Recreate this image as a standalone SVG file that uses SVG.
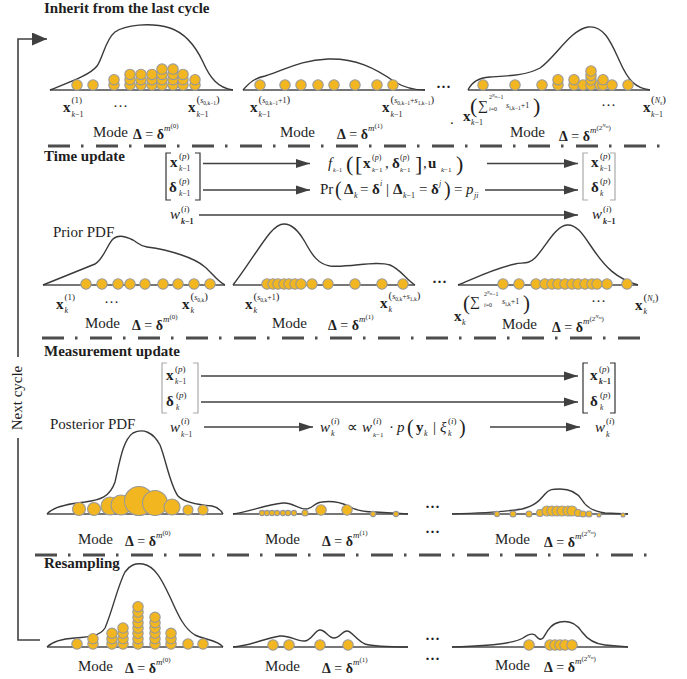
<svg xmlns="http://www.w3.org/2000/svg" width="687" height="679" viewBox="0 0 687 679">
<defs>
<style>
text{font-family:"Liberation Serif","Times New Roman",serif;fill:#1e1e1e}
.h{font-weight:bold;font-size:15px}
.lb{font-size:15px}
.eq{font-size:14px}
.b{font-weight:bold}
.i{font-style:italic}
.c{fill:none;stroke:#3a3a3a;stroke-width:1.4}
.bl{stroke:#4a4a4a;stroke-width:1.6}
.p{fill:#F2B620;stroke:#999;stroke-width:1.1}
.sep{fill:none;stroke:#4d4d4d;stroke-width:3;stroke-dasharray:22 11 2.5 12.5}
.ar{fill:none;stroke:#404040;stroke-width:1.5;marker-end:url(#ah)}
.loop{fill:none;stroke:#404040;stroke-width:1.6}
.br{fill:none;stroke:#333;stroke-width:1.2}
.brl{fill:none;stroke:#aaa;stroke-width:1.2}
</style>
<marker id="ah" markerUnits="userSpaceOnUse" markerWidth="15" markerHeight="10" refX="14" refY="5" orient="auto">
<path d="M0,0.5 L14,5 L0,9.5 Z" fill="#404040"/>
</marker>
<marker id="ah2" markerUnits="userSpaceOnUse" markerWidth="16" markerHeight="13" refX="15" refY="6.5" orient="auto">
<path d="M0,0 L15,6.5 L0,13 Z" fill="#404040"/>
</marker>
</defs>
<rect width="687" height="679" fill="#fff"/>

<!-- separators and section titles -->
<g id="sections">
<text class="h" x="44" y="13">Inherit from the last cycle</text>
<line class="sep" x1="48" y1="146" x2="660" y2="146"/>
<text class="h" x="44" y="161">Time update</text>
<text class="lb" x="53" y="237">Prior PDF</text>
<line class="sep" x1="42" y1="338" x2="640" y2="338"/>
<text class="h" x="44" y="356">Measurement update</text>
<text class="lb" x="50" y="429">Posterior PDF</text>
<line class="sep" x1="35" y1="555" x2="648" y2="555"/>
<text class="h" x="44" y="568">Resampling</text>
</g>

<!-- next cycle loop -->
<g id="next-cycle">
<path class="loop" d="M40,640 H18 V438"/>
<path class="loop" d="M18,357 V39 H47" marker-end="url(#ah2)"/>
<text class="lb" transform="translate(22,398) rotate(-90)" text-anchor="middle">Next cycle</text>
</g>

<!-- ROW 1: inherit -->
<g id="inherit-mode0">
<line class="bl" x1="50" y1="90" x2="233" y2="90"/>
<path class="c" d="M50,90 C70,82 90,75 97,66 C103,58 105,40 115,32 C125,25 150,22 170,28 C185,33 195,45 203,62 C210,78 218,88 233,90"/>
<circle class="p" cx="77" cy="85" r="5.2"/>
<circle class="p" cx="93" cy="85" r="5.2"/>
<circle class="p" cx="114" cy="85" r="5.2"/><circle class="p" cx="114" cy="79.7" r="5.2"/>
<circle class="p" cx="130" cy="85" r="5.2"/><circle class="p" cx="130" cy="79.7" r="5.2"/><circle class="p" cx="130" cy="74.4" r="5.2"/>
<circle class="p" cx="141" cy="85" r="5.2"/><circle class="p" cx="141" cy="79.7" r="5.2"/><circle class="p" cx="141" cy="74.4" r="5.2"/>
<circle class="p" cx="152" cy="85" r="5.2"/><circle class="p" cx="152" cy="79.7" r="5.2"/><circle class="p" cx="152" cy="74.4" r="5.2"/>
<circle class="p" cx="162" cy="85" r="5.2"/><circle class="p" cx="162" cy="79.7" r="5.2"/><circle class="p" cx="162" cy="74.4" r="5.2"/><circle class="p" cx="162" cy="69.1" r="5.2"/>
<circle class="p" cx="173" cy="85" r="5.2"/><circle class="p" cx="173" cy="79.7" r="5.2"/><circle class="p" cx="173" cy="74.4" r="5.2"/><circle class="p" cx="173" cy="69.1" r="5.2"/>
<circle class="p" cx="183" cy="85" r="5.2"/><circle class="p" cx="183" cy="79.7" r="5.2"/><circle class="p" cx="183" cy="74.4" r="5.2"/>
<circle class="p" cx="195" cy="85" r="5.2"/><circle class="p" cx="195" cy="79.7" r="5.2"/>
<text class="lb"><tspan class="b" x="63" y="112">x</tspan><tspan x="71.5" y="103" font-size="9">(1)</tspan><tspan x="71.5" y="117" font-size="8" class="i">k</tspan><tspan font-size="8">−1</tspan></text>
<text class="lb" x="113" y="111">···</text>
<text class="lb"><tspan class="b" x="188" y="112">x</tspan><tspan x="196.5" y="103" font-size="11">(</tspan><tspan class="i" font-size="8">s</tspan><tspan font-size="5.5" dy="1.5">0,k−1</tspan><tspan font-size="11" dy="-1.5">)</tspan><tspan x="196.5" y="117" font-size="8" class="i">k</tspan><tspan font-size="8">−1</tspan></text>
<text class="lb" x="93" y="137">Mode</text>
<text class="eq" x="133" y="139"><tspan class="b">Δ</tspan> = <tspan class="b">δ</tspan><tspan class="i" font-size="9" dy="-8">m</tspan><tspan font-size="7" dy="-3">(0)</tspan></text>
</g>

<g id="inherit-mode1">
<line class="bl" x1="243" y1="90" x2="425" y2="90"/>
<path class="c" d="M243,90 C250,82 255,78 265,76 C285,70 300,60 328,59 C355,58 375,68 395,82 C405,88 415,90 425,90"/>
<circle class="p" cx="260" cy="85" r="5.2"/>
<circle class="p" cx="285" cy="85" r="5.2"/>
<circle class="p" cx="301" cy="85" r="5.2"/>
<circle class="p" cx="318" cy="85" r="5.2"/>
<circle class="p" cx="334" cy="85" r="5.2"/>
<circle class="p" cx="355" cy="85" r="5.2"/>
<circle class="p" cx="377" cy="85" r="5.2"/>
<circle class="p" cx="393" cy="85" r="5.2"/>
<text class="lb"><tspan class="b" x="250" y="112">x</tspan><tspan x="258.5" y="103" font-size="11">(</tspan><tspan class="i" font-size="8">s</tspan><tspan font-size="5.5" dy="1.5">0,k−1</tspan><tspan font-size="8" dy="-1.5">+1</tspan><tspan font-size="11">)</tspan><tspan x="258.5" y="117" font-size="8" class="i">k</tspan><tspan font-size="8">−1</tspan></text>
<text class="lb"><tspan class="b" x="382" y="112">x</tspan><tspan x="390.5" y="103" font-size="11">(</tspan><tspan class="i" font-size="8">s</tspan><tspan font-size="5.5" dy="1.5">0,k−1</tspan><tspan font-size="8" dy="-1.5">+</tspan><tspan class="i" font-size="8">s</tspan><tspan font-size="5.5" dy="1.5">1,k−1</tspan><tspan font-size="11" dy="-1.5">)</tspan><tspan x="390.5" y="117" font-size="8" class="i">k</tspan><tspan font-size="8">−1</tspan></text>
<text class="lb" x="280" y="137">Mode</text>
<text class="eq" x="337" y="139"><tspan class="b">Δ</tspan> = <tspan class="b">δ</tspan><tspan class="i" font-size="9" dy="-8">m</tspan><tspan font-size="7" dy="-3">(1)</tspan></text>
</g>

<g id="inherit-gap">
<text class="lb b" x="436" y="92">···</text>
<text class="lb" x="450" y="124">.</text>
</g>

<g id="inherit-modeN">
<line class="bl" x1="468" y1="90" x2="650" y2="90"/>
<path class="c" d="M468,90 C472,82 478,78 490,77 C505,76 525,76 540,68 C555,58 570,30 588,27 C605,25 612,45 620,62 C628,80 635,88 650,90"/>
<circle class="p" cx="483" cy="85" r="5.2"/>
<circle class="p" cx="515" cy="85" r="5.2"/>
<circle class="p" cx="542" cy="85" r="5.2"/>
<circle class="p" cx="558" cy="85" r="5.2"/><circle class="p" cx="558" cy="79.7" r="5.2"/>
<circle class="p" cx="574" cy="85" r="5.2"/><circle class="p" cx="574" cy="79.7" r="5.2"/>
<circle class="p" cx="583" cy="85" r="5.2"/>
<circle class="p" cx="591" cy="85" r="5.2"/><circle class="p" cx="591" cy="80" r="5.2"/><circle class="p" cx="591" cy="75.5" r="5.2"/><circle class="p" cx="591" cy="71" r="5.2"/>
<circle class="p" cx="600" cy="85" r="5.2"/>
<circle class="p" cx="603" cy="85" r="5.2"/><circle class="p" cx="603" cy="79.7" r="5.2"/>
<circle class="p" cx="612" cy="85" r="5.2"/>
<circle class="p" cx="628" cy="85" r="5.2"/>
<text class="lb"><tspan class="b" x="463" y="121">x</tspan><tspan x="470" y="113" font-size="22">(</tspan><tspan x="478" y="110" font-size="14">∑</tspan><tspan x="489" y="99" font-size="6">2</tspan><tspan class="i" font-size="4" dy="-2">N</tspan><tspan class="i" font-size="3.5" dy="1">m</tspan><tspan font-size="6" dy="1">−1</tspan><tspan x="489" y="111" font-size="6"><tspan class="i">i</tspan>=0</tspan><tspan x="506" y="108" font-size="8" class="i">s</tspan><tspan font-size="5.5" dy="1.5">i,k−1</tspan><tspan font-size="8" dy="-1.5">+1</tspan><tspan x="533" y="113" font-size="22">)</tspan><tspan x="471" y="125" font-size="8" class="i">k</tspan><tspan font-size="8">−1</tspan></text>
<text class="lb" x="601" y="110">···</text>
<text class="lb"><tspan class="b" x="643" y="112">x</tspan><tspan x="651" y="103" font-size="11">(</tspan><tspan class="i" font-size="8">N</tspan><tspan class="i" font-size="5.5" dy="1.5">s</tspan><tspan font-size="11" dy="-1.5">)</tspan><tspan x="651" y="117" font-size="8" class="i">k</tspan><tspan font-size="8">−1</tspan></text>
<text class="lb" x="510" y="137">Mode</text>
<text class="eq" x="559" y="141"><tspan class="b">Δ</tspan> = <tspan class="b">δ</tspan><tspan class="i" font-size="9" dy="-8">m</tspan><tspan font-size="7" dy="-3">(2</tspan><tspan class="i" font-size="5" dy="-3">N</tspan><tspan class="i" font-size="4" dy="1">m</tspan><tspan font-size="7" dy="2">)</tspan></text>
</g>

<!-- TIME UPDATE -->
<g id="time-left">
<path class="br" d="M171,153 H166 V200 H171 M195,153 H200 V200 H195"/>
<text class="lb"><tspan class="b" x="170" y="167">x</tspan><tspan x="179" y="159" font-size="9">(<tspan class="i">p</tspan>)</tspan><tspan x="179" y="171" font-size="7.5" class="i">k</tspan><tspan font-size="7.5">−1</tspan></text>
<text class="lb"><tspan class="b" x="169" y="192">δ</tspan><tspan x="179" y="184" font-size="9">(<tspan class="i">p</tspan>)</tspan><tspan x="179" y="196" font-size="7.5" class="i">k</tspan><tspan font-size="7.5">−1</tspan></text>
<text class="lb"><tspan class="i" x="170" y="219">w</tspan><tspan x="181" y="212" font-size="9">(<tspan class="i">i</tspan>)</tspan><tspan x="181" y="224" font-size="8" class="b i">k</tspan><tspan font-size="8" class="b">−1</tspan></text>
</g>
<g id="time-f">
<text class="lb"><tspan class="i" x="328" y="168">f</tspan><tspan x="333" y="172" font-size="6"><tspan class="i">k</tspan>−1</tspan><tspan x="346" y="171" font-size="22">(</tspan><tspan x="355" y="171" font-size="22">[</tspan><tspan class="b" x="363" y="168">x</tspan><tspan x="372" y="160" font-size="8">(<tspan class="i">p</tspan>)</tspan><tspan x="372" y="172" font-size="7"><tspan class="i">k</tspan>−1</tspan><tspan x="385" y="168">,</tspan><tspan class="b" x="392" y="168">δ</tspan><tspan x="400" y="160" font-size="8">(<tspan class="i">p</tspan>)</tspan><tspan x="400" y="172" font-size="7"><tspan class="i">k</tspan>−1</tspan><tspan x="415" y="171" font-size="22">]</tspan><tspan x="423" y="168">,</tspan><tspan class="b" x="428" y="168">u</tspan><tspan x="441" y="172" font-size="7"><tspan class="i">k</tspan>−1</tspan><tspan x="456" y="171" font-size="22">)</tspan></text>
</g>
<g id="time-pr">
<text class="lb"><tspan x="320" y="194">Pr</tspan><tspan x="335" y="196" font-size="20">(</tspan><tspan class="b" x="344" y="194">Δ</tspan><tspan x="354" y="198" font-size="8" class="i">k</tspan><tspan x="360" y="194">=</tspan><tspan class="b" x="372" y="194">δ</tspan><tspan x="380" y="186" font-size="8" class="i">i</tspan><tspan x="386" y="194">|</tspan><tspan class="b" x="393" y="194">Δ</tspan><tspan x="403" y="198" font-size="8"><tspan class="i">k</tspan>−1</tspan><tspan x="419" y="194">=</tspan><tspan class="b" x="431" y="194">δ</tspan><tspan x="439" y="186" font-size="8" class="i">j</tspan><tspan x="444" y="196" font-size="20">)</tspan><tspan x="454" y="194">=</tspan><tspan x="466" y="194" class="i">p</tspan><tspan x="474" y="198" font-size="8" class="i">ji</tspan></text>
</g>
<g id="time-right">
<path class="brl" d="M588,153 H583 V200 H588 M610,153 H615 V200 H610"/>
<text class="lb"><tspan class="b" x="591" y="167">x</tspan><tspan x="600" y="159" font-size="9">(<tspan class="i">p</tspan>)</tspan><tspan x="600" y="171" font-size="7.5" class="i">k</tspan><tspan font-size="7.5">−1</tspan></text>
<text class="lb"><tspan class="b" x="591" y="192">δ</tspan><tspan x="600" y="184" font-size="9">(<tspan class="i">p</tspan>)</tspan><tspan x="600" y="196" font-size="7.5" class="i">k</tspan></text>
<text class="lb"><tspan class="i" x="592" y="219">w</tspan><tspan x="603" y="212" font-size="9">(<tspan class="i">i</tspan>)</tspan><tspan x="603" y="224" font-size="8" class="b i">k</tspan><tspan font-size="8" class="b">−1</tspan></text>
</g>

<!-- ROW 3: prior -->
<g id="prior-mode0">
<line class="bl" x1="43" y1="285" x2="225" y2="285"/>
<path class="c" d="M43,285 L95,264 C103,260 107,245 113,239 C117,235 125,236 133,240 C138,243 140,246 147,247 C170,250 195,258 205,267 C212,273 218,282 225,285"/>
<circle class="p" cx="86" cy="284" r="5.2"/><circle class="p" cx="102" cy="284" r="5.2"/><circle class="p" cx="118" cy="284" r="5.2"/><circle class="p" cx="130" cy="284" r="5.2"/><circle class="p" cx="145" cy="284" r="5.2"/><circle class="p" cx="163" cy="284" r="5.2"/><circle class="p" cx="178" cy="284" r="5.2"/><circle class="p" cx="194" cy="284" r="5.2"/><circle class="p" cx="210" cy="284" r="5.2"/>
<text class="lb"><tspan class="b" x="56" y="309">x</tspan><tspan x="64.5" y="300" font-size="9">(1)</tspan><tspan x="64.5" y="313" font-size="8" class="i">k</tspan></text>
<text class="lb" x="104" y="307">···</text>
<text class="lb"><tspan class="b" x="182" y="309">x</tspan><tspan x="190.5" y="300" font-size="11">(</tspan><tspan class="i" font-size="8">s</tspan><tspan font-size="5.5" dy="1.5">0,k</tspan><tspan font-size="11" dy="-1.5">)</tspan><tspan x="190.5" y="313" font-size="8" class="i">k</tspan></text>
<text class="lb" x="85" y="328">Mode</text>
<text class="eq" x="132" y="330"><tspan class="b">Δ</tspan> = <tspan class="b">δ</tspan><tspan class="i" font-size="9" dy="-8">m</tspan><tspan font-size="7" dy="-3">(0)</tspan></text>
</g>

<g id="prior-mode1">
<line class="bl" x1="233" y1="285" x2="415" y2="285"/>
<path class="c" d="M233,285 C245,270 260,245 270,233 C276,226 280,224 284,224 C292,224 298,230 305,242 C312,255 318,264 330,266 C350,268 375,260 390,265 C400,269 407,280 415,285"/>
<circle class="p" cx="267" cy="284" r="5.2"/><circle class="p" cx="273" cy="284" r="5.2"/><circle class="p" cx="278" cy="284" r="5.2"/><circle class="p" cx="284" cy="284" r="5.2"/><circle class="p" cx="289" cy="284" r="5.2"/><circle class="p" cx="295" cy="284" r="5.2"/><circle class="p" cx="301" cy="284" r="5.2"/><circle class="p" cx="312" cy="284" r="5.2"/><circle class="p" cx="328" cy="284" r="5.2"/><circle class="p" cx="355" cy="284" r="5.2"/><circle class="p" cx="382" cy="284" r="5.2"/><circle class="p" cx="403" cy="284" r="5.2"/>
<text class="lb"><tspan class="b" x="245" y="309">x</tspan><tspan x="253.5" y="300" font-size="11">(</tspan><tspan class="i" font-size="8">s</tspan><tspan font-size="5.5" dy="1.5">0,k</tspan><tspan font-size="8" dy="-1.5">+1</tspan><tspan font-size="11">)</tspan><tspan x="253.5" y="313" font-size="8" class="i">k</tspan></text>
<text class="lb"><tspan class="b" x="380" y="308">x</tspan><tspan x="388.5" y="299" font-size="11">(</tspan><tspan class="i" font-size="8">s</tspan><tspan font-size="5.5" dy="1.5">0,k</tspan><tspan font-size="8" dy="-1.5">+</tspan><tspan class="i" font-size="8">s</tspan><tspan font-size="5.5" dy="1.5">1,k</tspan><tspan font-size="11" dy="-1.5">)</tspan><tspan x="388.5" y="312" font-size="8" class="i">k</tspan></text>
<text class="lb" x="272" y="328">Mode</text>
<text class="eq" x="328" y="330"><tspan class="b">Δ</tspan> = <tspan class="b">δ</tspan><tspan class="i" font-size="9" dy="-8">m</tspan><tspan font-size="7" dy="-3">(1)</tspan></text>
</g>

<g id="prior-gap">
<text class="lb b" x="432" y="287">···</text>
</g>

<g id="prior-modeN">
<line class="bl" x1="458" y1="285" x2="638" y2="285"/>
<path class="c" d="M458,285 C475,278 495,268 515,264 C522,262 528,265 535,258 C545,248 555,226 567,225 C578,224 585,238 595,252 C605,266 615,278 638,285"/>
<circle class="p" cx="503" cy="284" r="5.2"/><circle class="p" cx="519" cy="284" r="5.2"/><circle class="p" cx="536" cy="284" r="5.2"/><circle class="p" cx="545" cy="284" r="5.2"/><circle class="p" cx="552" cy="284" r="5.2"/><circle class="p" cx="558" cy="284" r="5.2"/><circle class="p" cx="565" cy="284" r="5.2"/><circle class="p" cx="572" cy="284" r="5.2"/><circle class="p" cx="578" cy="284" r="5.2"/><circle class="p" cx="585" cy="284" r="5.2"/><circle class="p" cx="592" cy="284" r="5.2"/><circle class="p" cx="597" cy="284" r="5.2"/><circle class="p" cx="607" cy="284" r="5.2"/><circle class="p" cx="627" cy="284" r="5.2"/>
<text class="lb"><tspan class="b" x="454" y="321">x</tspan><tspan x="463" y="310" font-size="21">(</tspan><tspan x="470" y="306" font-size="14">∑</tspan><tspan x="484" y="296" font-size="6">2</tspan><tspan class="i" font-size="4" dy="-2">N</tspan><tspan class="i" font-size="3.5" dy="1">m</tspan><tspan font-size="6" dy="1">−1</tspan><tspan x="484" y="307" font-size="6"><tspan class="i">i</tspan>=0</tspan><tspan x="502" y="304" font-size="8" class="i">s</tspan><tspan font-size="5.5" dy="1.5">i,k</tspan><tspan font-size="8" dy="-1.5">+1</tspan><tspan x="523" y="310" font-size="21">)</tspan><tspan x="462" y="325" font-size="8" class="i">k</tspan></text>
<text class="lb" x="591" y="306">···</text>
<text class="lb"><tspan class="b" x="635" y="310">x</tspan><tspan x="643.5" y="301" font-size="11">(</tspan><tspan class="i" font-size="8">N</tspan><tspan class="i" font-size="5.5" dy="1.5">s</tspan><tspan font-size="11" dy="-1.5">)</tspan><tspan x="643.5" y="314" font-size="8" class="i">k</tspan></text>
<text class="lb" x="502" y="329">Mode</text>
<text class="eq" x="552" y="332"><tspan class="b">Δ</tspan> = <tspan class="b">δ</tspan><tspan class="i" font-size="9" dy="-8">m</tspan><tspan font-size="7" dy="-3">(2</tspan><tspan class="i" font-size="5" dy="-3">N</tspan><tspan class="i" font-size="4" dy="1">m</tspan><tspan font-size="7" dy="2">)</tspan></text>
</g>

<!-- MEASUREMENT UPDATE -->
<g id="meas-left">
<path class="brl" d="M167,363 H162 V413 H167 M193,363 H198 V413 H193"/>
<text class="lb"><tspan class="b" x="166" y="380">x</tspan><tspan x="175" y="372" font-size="9">(<tspan class="i">p</tspan>)</tspan><tspan x="175" y="384" font-size="7.5" class="i">k</tspan><tspan font-size="7.5">−1</tspan></text>
<text class="lb"><tspan class="b" x="166" y="406">δ</tspan><tspan x="176" y="398" font-size="9">(<tspan class="i">p</tspan>)</tspan><tspan x="176" y="410" font-size="7.5" class="i">k</tspan></text>
<text class="lb"><tspan class="i" x="170" y="432">w</tspan><tspan x="181" y="424" font-size="9">(<tspan class="i">i</tspan>)</tspan><tspan x="181" y="437" font-size="7.5" class="i">k</tspan><tspan font-size="7.5">−1</tspan></text>
</g>
<g id="meas-formula">
<text class="lb"><tspan class="i" x="320" y="432">w</tspan><tspan x="331" y="424" font-size="9">(<tspan class="i">i</tspan>)</tspan><tspan x="331" y="436" font-size="8" class="i">k</tspan><tspan x="347" y="432">∝</tspan><tspan class="i" x="362" y="432">w</tspan><tspan x="373" y="424" font-size="9">(<tspan class="i">i</tspan>)</tspan><tspan x="373" y="437" font-size="7"><tspan class="i">k</tspan>−1</tspan><tspan x="389" y="432">·</tspan><tspan class="i" x="397" y="432">p</tspan><tspan x="407" y="434" font-size="20">(</tspan><tspan class="b" x="416" y="432">y</tspan><tspan x="424" y="436" font-size="8" class="i">k</tspan><tspan x="433" y="432">|</tspan><tspan class="i" x="440" y="432">ξ</tspan><tspan x="448" y="424" font-size="9">(<tspan class="i">i</tspan>)</tspan><tspan x="448" y="436" font-size="8" class="i">k</tspan><tspan x="459" y="434" font-size="20">)</tspan></text>
</g>
<g id="meas-right">
<path class="br" d="M588,363 H583 V413 H588 M610,363 H615 V413 H610"/>
<text class="lb"><tspan class="b" x="590" y="380">x</tspan><tspan x="599" y="372" font-size="9">(<tspan class="i">p</tspan>)</tspan><tspan x="599" y="384" font-size="7.5" class="b i">k</tspan><tspan font-size="7.5" class="b">−1</tspan></text>
<text class="lb"><tspan class="b" x="590" y="406">δ</tspan><tspan x="600" y="398" font-size="9">(<tspan class="i">p</tspan>)</tspan><tspan x="600" y="410" font-size="7.5" class="i">k</tspan></text>
<text class="lb"><tspan class="i" x="595" y="432">w</tspan><tspan x="606" y="424" font-size="9">(<tspan class="i">i</tspan>)</tspan><tspan x="606" y="437" font-size="8" class="i">k</tspan></text>
</g>

<!-- ROW: posterior -->
<g id="post-mode0">
<line class="bl" x1="47" y1="514" x2="223" y2="514"/>
<path class="c" d="M47,514 C52,508 65,504 85,502 C100,500 110,497 115,482 C120,460 123,440 133,433 C143,428 153,432 160,445 C166,460 170,485 178,496 C185,503 200,505 212,506 C220,508 222,512 223,514"/>
<circle class="p" cx="79" cy="509" r="6.5"/><circle class="p" cx="94" cy="509" r="6.5"/><circle class="p" cx="110" cy="506" r="9"/><circle class="p" cx="121" cy="505" r="10"/><circle class="p" cx="139" cy="501" r="14.5"/><circle class="p" cx="155" cy="503" r="12.5"/><circle class="p" cx="172" cy="507" r="8"/><circle class="p" cx="188" cy="510" r="5"/><circle class="p" cx="203" cy="510" r="5"/>
<text class="lb" x="78" y="544">Mode</text>
<text class="eq" x="125" y="546"><tspan class="b">Δ</tspan> = <tspan class="b">δ</tspan><tspan class="i" font-size="9" dy="-8">m</tspan><tspan font-size="7" dy="-3">(0)</tspan></text>
</g>

<g id="post-mode1">
<line class="bl" x1="233" y1="514" x2="408" y2="514"/>
<path class="c" d="M233,514 C248,512 265,505 283,503 C292,502 298,509 306,509 C312,509 315,502 322,502 C330,501 340,502 348,506 C355,510 362,512 375,512 L408,514"/>
<circle class="p" cx="262" cy="513" r="2.6"/><circle class="p" cx="267" cy="513" r="2.6"/><circle class="p" cx="272" cy="513" r="2.6"/><circle class="p" cx="277" cy="513" r="2.6"/><circle class="p" cx="283" cy="513" r="2.6"/><circle class="p" cx="288" cy="513" r="2.6"/><circle class="p" cx="294" cy="513" r="2.6"/><circle class="p" cx="305" cy="513" r="3"/><circle class="p" cx="321" cy="510" r="5.2"/><circle class="p" cx="347" cy="510" r="5.2"/><circle class="p" cx="373" cy="514" r="2.6"/><circle class="p" cx="396" cy="514" r="2.6"/>
<text class="lb" x="265" y="544">Mode</text>
<text class="eq" x="322" y="546"><tspan class="b">Δ</tspan> = <tspan class="b">δ</tspan><tspan class="i" font-size="9" dy="-8">m</tspan><tspan font-size="7" dy="-3">(1)</tspan></text>
</g>

<g id="post-gap">
<text class="lb b" x="425" y="512">···</text>
<text class="lb b" x="425" y="537">···</text>
</g>

<g id="post-modeN">
<line class="bl" x1="452" y1="514" x2="628" y2="514"/>
<path class="c" d="M452,514 C480,513 505,512 522,509 C535,506 540,500 545,494 C549,489 553,489 560,489 C570,489 577,492 582,500 C586,507 592,511 605,513 L628,514"/>
<circle class="p" cx="497" cy="514" r="2.6"/><circle class="p" cx="513" cy="514" r="3"/><circle class="p" cx="529" cy="514" r="3"/><circle class="p" cx="540" cy="513" r="3.5"/><circle class="p" cx="547" cy="511" r="5"/><circle class="p" cx="552" cy="511" r="5"/><circle class="p" cx="557" cy="511" r="5"/><circle class="p" cx="562" cy="511" r="5"/><circle class="p" cx="568" cy="511" r="5"/><circle class="p" cx="572" cy="511" r="5"/><circle class="p" cx="578" cy="513" r="3.5"/><circle class="p" cx="583" cy="514" r="3"/><circle class="p" cx="589" cy="514" r="3"/><circle class="p" cx="599" cy="515" r="2"/><circle class="p" cx="623" cy="515" r="2"/>
<text class="lb" x="495" y="544">Mode</text>
<text class="eq" x="544" y="547"><tspan class="b">Δ</tspan> = <tspan class="b">δ</tspan><tspan class="i" font-size="9" dy="-8">m</tspan><tspan font-size="7" dy="-3">(2</tspan><tspan class="i" font-size="5" dy="-3">N</tspan><tspan class="i" font-size="4" dy="1">m</tspan><tspan font-size="7" dy="2">)</tspan></text>
</g>

<!-- ROW: resampling -->
<g id="res-mode0">
<line class="bl" x1="47" y1="647" x2="223" y2="647"/>
<path class="c" d="M47,647 C52,642 60,639 75,638 C90,637 100,636 105,628 C112,612 118,585 125,572 C130,565 135,563 143,564 C155,566 162,580 170,597 C177,612 183,628 195,635 C205,640 218,640 223,647"/>
<circle class="p" cx="77" cy="644" r="5.2"/>
<circle class="p" cx="93" cy="644" r="5.2"/><circle class="p" cx="93" cy="638.7" r="5.2"/>
<circle class="p" cx="112" cy="644" r="5.2"/><circle class="p" cx="112" cy="638.7" r="5.2"/><circle class="p" cx="112" cy="633.3" r="5.2"/>
<circle class="p" cx="123" cy="644" r="5.2"/><circle class="p" cx="123" cy="638.7" r="5.2"/><circle class="p" cx="123" cy="633.3" r="5.2"/><circle class="p" cx="123" cy="628" r="5.2"/>
<circle class="p" cx="138" cy="644" r="5.2"/><circle class="p" cx="138" cy="638.7" r="5.2"/><circle class="p" cx="138" cy="633.3" r="5.2"/><circle class="p" cx="138" cy="628" r="5.2"/><circle class="p" cx="138" cy="622.7" r="5.2"/><circle class="p" cx="138" cy="617.3" r="5.2"/><circle class="p" cx="138" cy="612" r="5.2"/><circle class="p" cx="138" cy="606.7" r="5.2"/>
<circle class="p" cx="155" cy="644" r="5.2"/><circle class="p" cx="155" cy="638.7" r="5.2"/><circle class="p" cx="155" cy="633.3" r="5.2"/><circle class="p" cx="155" cy="628" r="5.2"/><circle class="p" cx="155" cy="622.7" r="5.2"/><circle class="p" cx="155" cy="617.3" r="5.2"/>
<circle class="p" cx="171" cy="644" r="5.2"/><circle class="p" cx="171" cy="638.7" r="5.2"/><circle class="p" cx="171" cy="633.3" r="5.2"/>
<circle class="p" cx="188" cy="644" r="5.2"/>
<circle class="p" cx="203" cy="644" r="5.2"/>
<text class="lb" x="78" y="671">Mode</text>
<text class="eq" x="125" y="673"><tspan class="b">Δ</tspan> = <tspan class="b">δ</tspan><tspan class="i" font-size="9" dy="-8">m</tspan><tspan font-size="7" dy="-3">(0)</tspan></text>
</g>

<g id="res-mode1">
<line class="bl" x1="233" y1="647" x2="408" y2="647"/>
<path class="c" d="M233,647 C250,646 265,638 280,636 C290,635 297,642 305,641 C312,640 315,630 320,630 C326,630 328,638 334,638 C340,638 342,631 347,631 C352,631 356,640 365,644 C375,647 395,647 408,647"/>
<circle class="p" cx="273" cy="645" r="5.2"/><circle class="p" cx="289" cy="645" r="5.2"/><circle class="p" cx="320" cy="645" r="5.2"/><circle class="p" cx="348" cy="645" r="5.2"/>
<text class="lb" x="265" y="671">Mode</text>
<text class="eq" x="322" y="673"><tspan class="b">Δ</tspan> = <tspan class="b">δ</tspan><tspan class="i" font-size="9" dy="-8">m</tspan><tspan font-size="7" dy="-3">(1)</tspan></text>
</g>

<g id="res-gap">
<text class="lb b" x="425" y="644">···</text>
<text class="lb b" x="425" y="664">···</text>
</g>

<g id="res-modeN">
<line class="bl" x1="452" y1="647" x2="628" y2="647"/>
<path class="c" d="M452,647 C490,646 515,643 523,638 C527,635 532,633 535,635 C538,638 540,641 543,638 C547,632 550,624 560,622 C570,620 577,624 582,632 C588,640 595,644 605,645 L628,647"/>
<circle class="p" cx="529" cy="645" r="5.2"/><circle class="p" cx="550" cy="645" r="5.2"/><circle class="p" cx="555" cy="645" r="5.2"/><circle class="p" cx="560" cy="645" r="5.2"/><circle class="p" cx="565" cy="645" r="5.2"/><circle class="p" cx="572" cy="645" r="5.2"/>
<text class="lb" x="495" y="670">Mode</text>
<text class="eq" x="544" y="672"><tspan class="b">Δ</tspan> = <tspan class="b">δ</tspan><tspan class="i" font-size="9" dy="-8">m</tspan><tspan font-size="7" dy="-3">(2</tspan><tspan class="i" font-size="5" dy="-3">N</tspan><tspan class="i" font-size="4" dy="1">m</tspan><tspan font-size="7" dy="2">)</tspan></text>
</g>

<!-- connectors -->
<g id="connectors">
<line class="ar" x1="203" y1="163.5" x2="310" y2="163.5"/>
<line class="ar" x1="487" y1="163.5" x2="578" y2="163.5"/>
<line class="ar" x1="203" y1="190" x2="310" y2="190"/>
<line class="ar" x1="485" y1="190" x2="578" y2="190"/>
<line class="ar" x1="199" y1="215" x2="578" y2="215"/>
<line class="ar" x1="201" y1="376" x2="578" y2="376"/>
<line class="ar" x1="201" y1="402" x2="578" y2="402"/>
<line class="ar" x1="204" y1="427" x2="313" y2="427"/>
<line class="ar" x1="490" y1="427" x2="580" y2="427"/>
</g>
</svg>
